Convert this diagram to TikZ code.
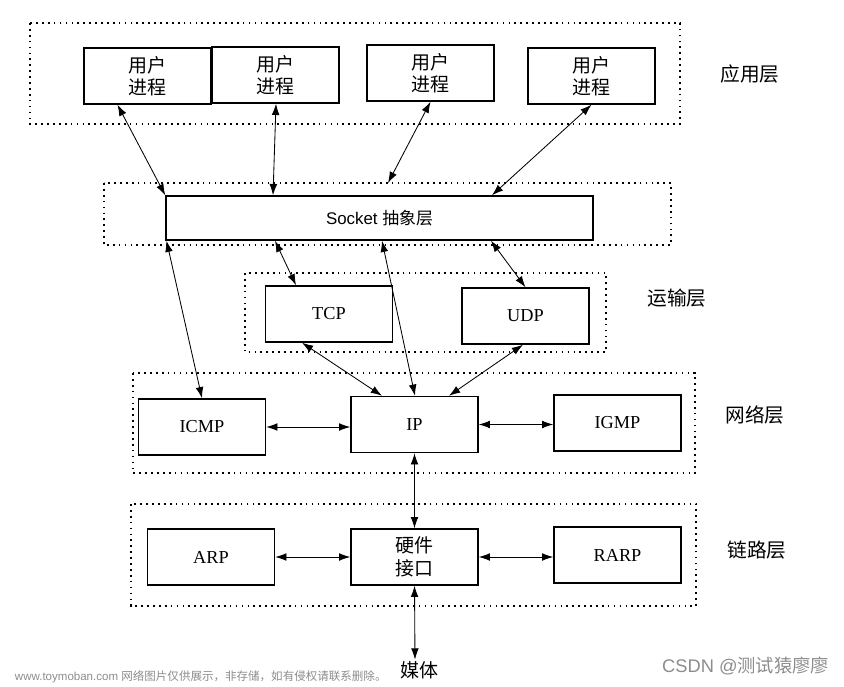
\documentclass[tikz,border=0pt]{standalone}
\usepackage{fontspec}
\usepackage{tikz}
\usetikzlibrary{arrows.meta,calc}
\setmainfont{Liberation Serif}
\newfontfamily\cjk{Noto Sans CJK SC}
\newfontfamily\sockfont{Liberation Sans}

\tikzset{
  box/.style={draw, line width=1pt, inner sep=0pt, minimum width=3.175cm, minimum height=1.4cm,
    align=center, font=\fontsize{13}{15}\selectfont},
  cnbox/.style={box, font=\cjk\fontsize{13.5}{16}\selectfont},
  layer/.style={draw, line width=1pt, dash pattern=on 1.2pt off 3pt},
  layername/.style={font=\cjk\fontsize{14}{16}\selectfont},
  link/.style={<->, >={Latex[length=8pt,width=5.5pt]}, line width=0.6pt},
  mark text/.style={text=black!45}
}

\begin{document}
\begin{tikzpicture}[x=0.025cm, y=-0.025cm]
    \useasboundingbox (0,0) rectangle (844,686);
    % layers
    \draw[layer] (30,23) rectangle (680,124);
    \draw[layer] (104,183) rectangle (671,245);
    \draw[layer] (245,273) rectangle (606,352);
    \draw[layer] (133,373) rectangle (695,473);
    \draw[layer] (131,504) rectangle (696,606);
    \coordinate (socktop) at (388,183);
    % boxes
    \node[cnbox] (u1) at (147.5,76) {用户\\进程};
    \node[cnbox] (u2) at (275.5,75) {用户\\进程};
    \node[cnbox] (u3) at (430.5,73) {用户\\进程};
    \node[cnbox] (u4) at (591.5,76) {用户\\进程};
    \node[box, minimum width=10.675cm, minimum height=1.1cm] (sock) at (379.5,218)
        {\sockfont\fontsize{12}{14}\selectfont Socket {\cjk 抽象层}};
    \node[box] (tcp) at (329,314) {TCP};
    \node[box] (udp) at (525.5,316) {UDP};
    \node[box] (icmp) at (202,427) {ICMP};
    \node[box] (ip) at (414.5,424.5) {IP};
    \node[box] (igmp) at (617.5,423) {IGMP};
    \node[box] (arp) at (211,557) {ARP};
    \node[cnbox] (hw) at (414.5,557) {硬件\\接口};
    \node[box] (rarp) at (617.5,555) {RARP};
    \node[font=\cjk\fontsize{13.5}{15}\selectfont, inner sep=1pt] (media) at (419,670) {媒体};
    % layer names
    \node[layername] (lapp) at (750,74) {应用层};
    \node[layername] (ltrans) at (677,298) {运输层};
    \node[layername] (lnet) at (755,415) {网络层};
    \node[layername] (llink) at (757,550) {链路层};
    % arrows
    \draw[link] ($(u1.south)+(-30,0)$) -- (sock.north west);
    \draw[link] ($(u2.south)+(0.5,0)$) -- ($(sock.north)+(-106.5,0)$);
    \draw[link] (u3.south) -- (socktop);
    \draw[link] (u4.south) -- ($(sock.north)+(112.5,0)$);
    \draw[link] ($(sock.south)+(-213,0)$) -- (icmp.north);
    \draw[link] ($(sock.south)+(-104.5,0)$) -- ($(tcp.north)+(-33,0)$);
    \draw[link] ($(sock.south)+(2.5,0)$) -- ($(ip.north)+(0.5,0)$);
    \draw[link] ($(sock.south)+(111.5,0)$) -- (udp.north);
    \draw[link] ($(tcp.south)+(-27,0)$) -- ($(ip.north)+(-32.5,0)$);
    \draw[link] ($(udp.south)+(-2.5,0)$) -- ($(ip.north)+(34.5,0)$);
    \draw[link] (icmp.east) -- (icmp.east -| ip.west);
    \draw[link] (ip.east) -- (ip.east -| igmp.west);
    \draw[link] (ip.south) -- (hw.north);
    \draw[link] (arp.east) -- (arp.east -| hw.west);
    \draw[link] (hw.east) -- (hw.east -| rarp.west);
    \draw[link] (hw.south) -- ($(media.north)+(-4,0)$);
    % marks
    \node[mark text, anchor=west, font=\sockfont\fontsize{8.2}{10}\selectfont] (wm1) at (10,677)
        {www.toymoban.com {\cjk 网络图片仅供展示，非存储，如有侵权请联系删除。}};
    \node[mark text, anchor=east, font=\sockfont\fontsize{13}{15}\selectfont] (wm2) at (834,666)
        {CSDN @{\cjk 测试猿廖廖}};
\end{tikzpicture}
\end{document}
